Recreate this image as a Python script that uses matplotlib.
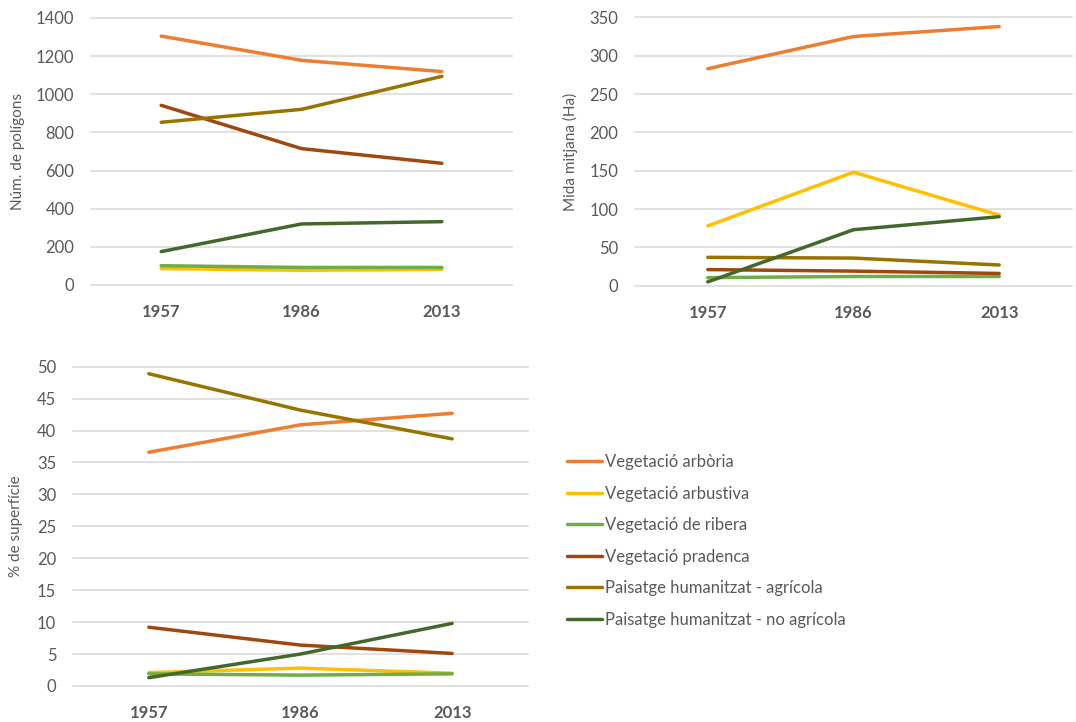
import matplotlib
matplotlib.use("Agg")
import matplotlib.pyplot as plt

plt.rcParams['font.family'] = ['Lato', 'DejaVu Sans']

# ------------------------------------------------------------------------------
years = ["1957", "1986", "2013"]
series_names = [
    "Vegetació arbòria",
    "Vegetació arbustiva",
    "Vegetació de ribera",
    "Vegetació pradenca",
    "Paisatge humanitzat - agrícola",
    "Paisatge humanitzat - no agrícola",
]
series_colors = ["#ED7D31", "#FFC000", "#70AD47", "#9E480E", "#997300", "#43682B"]

# number of polygons
num_poligons = [
    [1305, 1178, 1119],
    [86, 77, 82],
    [101, 92, 92],
    [942, 715, 638],
    [853, 921, 1094],
    [175, 320, 332],
]
# mean size (Ha)
mida_mitjana = [
    [283, 325, 338],
    [78, 148, 92],
    [10.5, 12, 12],
    [21, 19, 16],
    [37, 36, 27],
    [5, 73, 90],
]
# share of surface (%)
pct_superficie = [
    [36.6, 40.9, 42.7],
    [2.1, 2.8, 2.0],
    [1.9, 1.7, 1.9],
    [9.2, 6.4, 5.1],
    [48.9, 43.2, 38.7],
    [1.3, 5.0, 9.8],
]

TXT = "#595959"
GRID = "#D9D9D9"


def draw_panel(ax, data, ymax, ystep, ylabel, labelpad):
    xs = range(len(years))
    for vals, name, col in zip(data, series_names, series_colors):
        ax.plot(xs, vals, color=col, lw=2.5, label=name,
                solid_capstyle="round", clip_on=False, zorder=3)
    ticks = list(range(0, ymax + 1, ystep))
    for t in ticks:
        ax.axhline(t, color=GRID, lw=1.1, clip_on=False, zorder=1)
    ax.set_xlim(-0.5, len(years) - 0.5)
    ax.set_ylim(0, ymax)
    ax.set_yticks(ticks)
    ax.set_xticks(list(xs))
    ax.set_xticklabels(years, fontweight="bold")
    ax.tick_params(axis="both", length=0, colors=TXT, labelsize=12)
    ax.tick_params(axis="x", pad=14)
    ax.tick_params(axis="y", pad=12)
    for s in ax.spines.values():
        s.set_visible(False)
    ax.set_ylabel(ylabel, color=TXT, fontsize=11, labelpad=labelpad)


fig = plt.figure(figsize=(10.76, 7.22), dpi=100)

ax1 = fig.add_axes([0.0846, 0.6053, 0.3913, 0.3698])
draw_panel(ax1, num_poligons, 1400, 200, "Núm. de polígons", 8)

ax2 = fig.add_axes([0.5901, 0.6043, 0.4062, 0.3717])
draw_panel(ax2, mida_mitjana, 350, 50, "Mida mitjana (Ha)", 8)

ax3 = fig.add_axes([0.0678, 0.0499, 0.4229, 0.4422])
draw_panel(ax3, pct_superficie, 50, 5, "% de superfície", 10)

handles, labels = ax3.get_legend_handles_labels()
fig.legend(handles, labels, loc="upper left", bbox_to_anchor=(0.527, 0.371),
           frameon=False, fontsize=12, handlelength=2.1, handletextpad=0.15,
           labelspacing=0.93, borderpad=0, borderaxespad=0, labelcolor=TXT)

fig.savefig("out.png", dpi=100)
